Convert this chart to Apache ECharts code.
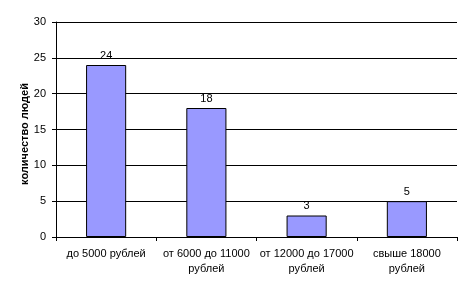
<!DOCTYPE html>
<html><head><meta charset="utf-8">
<script src="https://cdn.jsdelivr.net/npm/echarts@6/dist/echarts.min.js"></script>
<style>html,body{margin:0;padding:0;background:#fff}#c{width:471px;height:291px}</style>
</head><body><div id="c"></div>
<script>
const categories = ["до 5000 рублей", "от 6000 до 11000\nрублей", "от 12000 до 17000\nрублей", "свыше 18000\nрублей"];
const values = [24, 18, 3, 5];
const yTicks = [0, 5, 10, 15, 20, 25, 30];
const yTitle = "количество людей";

const chart = echarts.init(document.getElementById('c'), null, {renderer: 'canvas'});
chart.setOption({
  animation: false,
  textStyle: {fontFamily: 'Liberation Sans, Arial, sans-serif'},
  grid: {left: 56, right: 14, top: 22, bottom: 54},
  xAxis: {
    type: 'category', data: categories,
    axisLine: {lineStyle: {color: '#000', width: 1}},
    axisTick: {show: true, alignWithLabel: false, length: 4, lineStyle: {color: '#000'}},
    axisLabel: {color: '#000', fontSize: 11, margin: 9, lineHeight: 15, interval: 0}
  },
  yAxis: {
    type: 'value', min: yTicks[0], max: yTicks[yTicks.length - 1], interval: 5,
    axisLine: {show: true, lineStyle: {color: '#000'}},
    axisTick: {show: true, length: 4, lineStyle: {color: '#000'}},
    axisLabel: {color: '#000', fontSize: 11, margin: 10},
    splitLine: {show: true, lineStyle: {color: '#000', width: 1}}
  },
  graphic: [{
    type: 'text', rotation: Math.PI / 2, x: 25, y: 134,
    style: {text: yTitle, fill: '#000', font: 'bold 11px "Liberation Sans", Arial, sans-serif', align: 'center', verticalAlign: 'middle'}
  }],
  series: [{
    type: 'bar', data: values, barCategoryGap: '60%',
    itemStyle: {color: '#9999FF', borderColor: '#000', borderWidth: 1},
    label: {show: true, position: 'top', color: '#000', fontSize: 11, distance: 4}
  }]
});
</script></body></html>
